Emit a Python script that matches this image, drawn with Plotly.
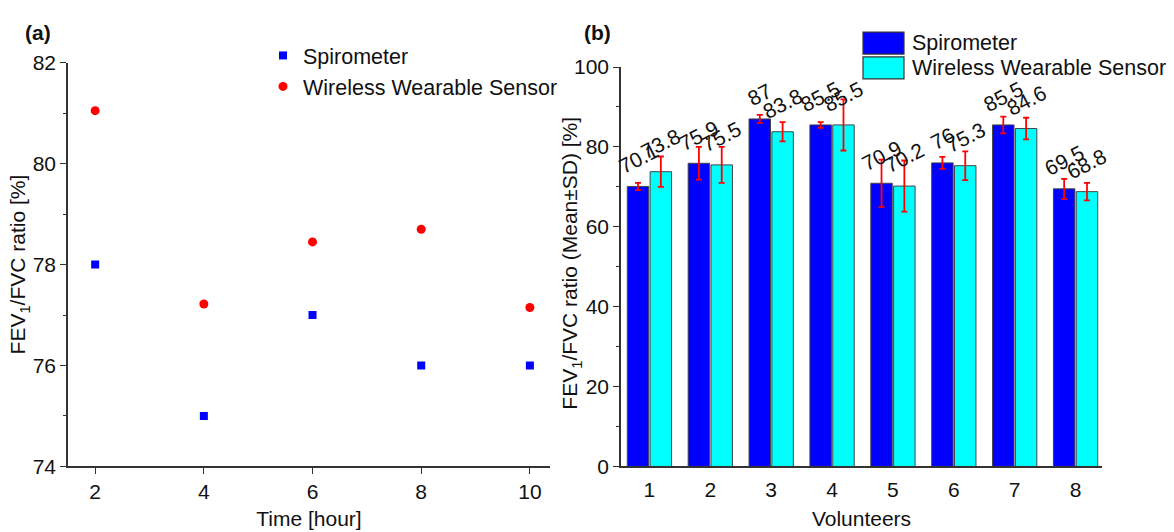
import plotly.graph_objects as go

# ---- data ----
time_hours = [2, 4, 6, 8, 10]
spiro_time = [78, 75, 77, 76, 76]
sensor_time = [81.05, 77.22, 78.45, 78.7, 77.15]

volunteers = [1, 2, 3, 4, 5, 6, 7, 8]
spiro_mean = [70.1, 75.9, 87, 85.5, 70.9, 76, 85.5, 69.5]
spiro_sd = [0.9, 4.1, 1.0, 0.7, 5.9, 1.5, 2.1, 2.5]
sensor_mean = [73.8, 75.5, 83.8, 85.5, 70.2, 75.3, 84.6, 68.8]
sensor_sd = [3.8, 4.5, 2.4, 6.4, 6.4, 3.6, 2.7, 2.2]

W, H = 1174, 532
FONT = "Liberation Sans, Arial, sans-serif"
AX = "#333333"
TXT = "#111111"
BARGAP = 0.25

def px(x):
    return x / W

def py(y):
    return (H - y) / H

fig = go.Figure()

# left panel scatter
fig.add_trace(go.Scatter(
    x=time_hours, y=spiro_time, mode="markers", name="Spirometer",
    marker=dict(symbol="square", size=8, color="#0000FF"),
    xaxis="x", yaxis="y", legend="legend"))
fig.add_trace(go.Scatter(
    x=time_hours, y=sensor_time, mode="markers", name="Wireless Wearable Sensor",
    marker=dict(symbol="circle", size=9, color="#FF0000"),
    xaxis="x", yaxis="y", legend="legend"))

# right panel bars
fig.add_trace(go.Bar(
    x=volunteers, y=spiro_mean, name="Spirometer",
    marker=dict(color="#0000FF", line=dict(color="#444444", width=1)),
    error_y=dict(type="data", array=spiro_sd, color="#FF0000", thickness=1.8, width=3),
    xaxis="x2", yaxis="y2", showlegend=False))
fig.add_trace(go.Bar(
    x=volunteers, y=sensor_mean, name="Wireless Wearable Sensor",
    marker=dict(color="#00FFFF", line=dict(color="#444444", width=1)),
    error_y=dict(type="data", array=sensor_sd, color="#FF0000", thickness=1.8, width=3),
    xaxis="x2", yaxis="y2", showlegend=False))

# value labels above bars (rotated), offset to each bar of the group
half = (1 - BARGAP) / 4
for series, sign in ((spiro_mean, -1), (sensor_mean, 1)):
    for v, val in zip(volunteers, series):
        fig.add_annotation(
            x=v + sign * half, y=val, xref="x2", yref="y2",
            text=f"{val:g}", textangle=-27, showarrow=False,
            xanchor="center", yanchor="bottom", yshift=6,
            font=dict(size=21, family=FONT, color=TXT))

axis_common = dict(
    showline=True, linecolor=AX, linewidth=1.5, showgrid=False, zeroline=False,
    ticks="outside", ticklen=6, tickwidth=1.3, tickcolor=AX,
    tickfont=dict(size=21, color=TXT, family=FONT),
    mirror=False,
)

fig.update_layout(
    width=W, height=H,
    margin=dict(l=0, r=0, t=0, b=0),
    paper_bgcolor="white", plot_bgcolor="white",
    font=dict(family=FONT, size=21, color=TXT),
    barmode="group", bargap=BARGAP, bargroupgap=0.06,
    xaxis=dict(**axis_common, domain=[px(68), px(550)], range=[1.5, 10.37],
               tickvals=time_hours, anchor="y",
               title=dict(text="Time [hour]", font=dict(size=21, family=FONT), standoff=9)),
    yaxis=dict(**axis_common, domain=[py(475), py(53)], range=[74, 82],
               tickvals=[74, 76, 78, 80, 82], anchor="x",
               minor=dict(ticks="outside", ticklen=3, tickwidth=1.3, tickcolor=AX, dtick=1),
               title=dict(text="FEV<sub>1</sub>/FVC ratio [%]", font=dict(size=21, family=FONT), standoff=0)),
    xaxis2=dict(**{**axis_common, "ticks": ""}, domain=[px(621), px(1102)], range=[0.533, 8.434],
                tickvals=volunteers, anchor="y2", ticklabelstandoff=4,
                title=dict(text="Volunteers", font=dict(size=21, family=FONT), standoff=11)),
    yaxis2=dict(**axis_common, domain=[py(475), py(57.5)], range=[0, 100],
                tickvals=[0, 20, 40, 60, 80, 100], anchor="x2",
                minor=dict(ticks="outside", ticklen=3, tickwidth=1.3, tickcolor=AX, dtick=10)),
    legend=dict(x=px(263), y=py(24), xanchor="left", yanchor="top",
                bgcolor="rgba(0,0,0,0)", font=dict(size=21.5, family=FONT),
                itemwidth=30, tracegroupgap=0),
)

# right y-axis title (placed close to the axis like the reference)
fig.add_annotation(text="FEV<sub>1</sub>/FVC ratio (Mean±SD) [%]", textangle=-90,
                   x=px(571), y=py(263), xref="paper", yref="paper",
                   xanchor="center", yanchor="middle", showarrow=False,
                   font=dict(size=21, family=FONT, color=TXT))

# panel labels
fig.add_annotation(text="<b>(a)</b>", x=px(23), y=py(21), xref="paper", yref="paper",
                   xanchor="left", yanchor="middle", showarrow=False,
                   font=dict(size=21, family=FONT, color=TXT))
fig.add_annotation(text="<b>(b)</b>", x=px(582), y=py(21), xref="paper", yref="paper",
                   xanchor="left", yanchor="middle", showarrow=False,
                   font=dict(size=21, family=FONT, color=TXT))

# right-panel legend (large swatches)
leg_items = [("Spirometer", "#0000FF", 21, 44), ("Wireless Wearable Sensor", "#00FFFF", 47, 70)]
for label, color, y0, y1 in leg_items:
    fig.add_shape(type="rect", xref="paper", yref="paper",
                  x0=px(863), x1=px(904), y0=py(y1), y1=py(y0),
                  fillcolor=color, line=dict(color="#333333", width=1.2))
    fig.add_annotation(text=label, x=px(910), y=py((y0 + y1) / 2), xref="paper", yref="paper",
                       xanchor="left", yanchor="middle", showarrow=False,
                       font=dict(size=21.5, family=FONT, color=TXT))

fig.write_html("out.html")
